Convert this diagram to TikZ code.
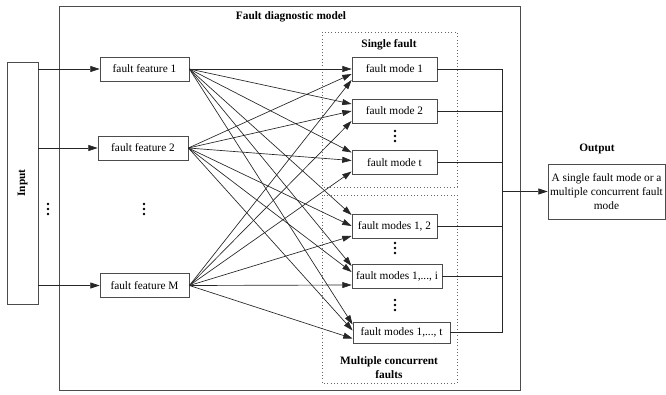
\documentclass[tikz,border=0pt]{standalone}
\usepackage{fontspec}
\setmainfont{Liberation Serif}
\usetikzlibrary{arrows.meta,calc}

\begin{document}
\begin{tikzpicture}[x=0.75pt,y=0.75pt,yscale=-1,xscale=1,
    txt/.style={font=\fontsize{8.5}{10.5}\selectfont},
    ttl/.style={font=\fontsize{8.5}{10.5}\selectfont\bfseries,inner sep=0.75pt},
    box/.style={txt,draw=black!70,line width=0.6pt,inner sep=0.75pt,minimum height=18pt},
    line/.style={draw=black!85,line width=0.5pt},
    arr/.style={line,-{Triangle[length=7pt,width=4.5pt]}}]
  \useasboundingbox (0,0) rectangle (666,395);

  % outer frame and groups
  \draw [draw=black!70,line width=0.6pt] (59,6) rectangle (520,390);
  \draw [draw=black!60,line width=0.5pt,dotted] (322,32) rectangle (457,187);
  \draw [draw=black!60,line width=0.5pt,dotted] (322,195) rectangle (457,383);

  % Text Node
  \node [ttl] (mdl) at (291,17) {Fault diagnostic model};
  \node [ttl] (sgl) at (389,45) {Single fault};
  \node [ttl,align=center] (mlt) at (389,368) {Multiple concurrent\\faults};
  \node [ttl] (outl) at (597,149) {Output};

  % input
  \node [box,minimum width=23.25pt,minimum height=181.5pt] (in) at (22.5,183) {};
  \node [ttl,rotate=90] (inl) at (in.center) {Input};

  % fault features
  \node [box,minimum width=66.75pt] (f1) at (144.5,69) {fault feature 1};
  \node [box,minimum width=67.5pt] (f2) at (143,148) {fault feature 2};
  \node [box,minimum width=66.75pt] (fM) at (144.5,285.5) {fault feature M};

  % fault modes
  \node [box,minimum width=63.75pt] (m1) at (394.5,69) {fault mode 1};
  \node [box,minimum width=63.75pt] (m2) at (394.5,111) {fault mode 2};
  \node [box,minimum width=63.75pt] (mt) at (394.5,162.5) {fault mode t};
  \node [box,minimum width=63.75pt] (mc12) at (394.5,226) {fault modes 1, 2};
  \node [box,minimum width=67.5pt] (mci) at (397,276) {fault modes 1,..., i};
  \node [box,minimum width=72.75pt,minimum height=15.75pt] (mct) at (401.5,332.5) {fault modes 1,..., t};

  % output
  \node [box,minimum width=87.75pt,minimum height=41.25pt,align=center] (out) at (606.5,191.5)
    {A single fault mode or a\\multiple concurrent fault\\mode};
  \coordinate (bus) at (502,191.5);

  % dots
  \foreach \x/\y in {48/209,144/209,395/136,395/248,395/305}
    \foreach \d in {-5,0,5}
      \fill (\x,\y+\d) circle (1.3);

  % input to features
  \foreach \f in {f1,f2,fM}
    \draw [arr] (in.east |- \f) -- (\f);

  % features to modes
  \foreach \s/\t/\dy in {f1/m1/0,f2/m1/5,fM/m1/11,
                         f1/m2/-7,f2/m2/0,fM/m2/10,
                         f1/mt/-10,f2/mt/-2,fM/mt/9,
                         f1/mc12/-11,f2/mc12/0,fM/mc12/10,
                         f1/mci/-10,f2/mci/-4,fM/mci/9,
                         f1/mct/-8,f2/mct/-2,fM/mct/6}
    \draw [arr] (\s.east) -- ($(\t.west)+(0,\dy)$);

  % modes to output
  \foreach \m in {m1,m2,mt,mc12,mci,mct}
    \draw [line] (\m.east) -- (\m.east -| bus);
  \draw [line] (m1.east -| bus) -- (mct.east -| bus);
  \draw [arr] (bus) -- (out);
\end{tikzpicture}
\end{document}
